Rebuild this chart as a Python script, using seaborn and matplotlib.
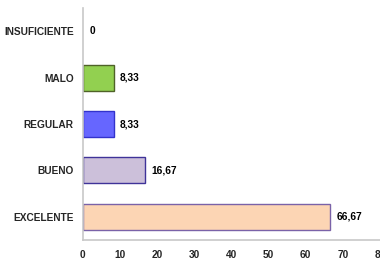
import matplotlib.pyplot as plt
import seaborn as sns
import pandas as pd

categorias = ['INSUFICIENTE', 'MALO', 'REGULAR', 'BUENO', 'EXCELENTE']
porcentajes = [0, 8.33, 8.33, 16.67, 66.67]
etiquetas = ['0', '8,33', '8,33', '16,67', '66,67']
colores = ['#ffffff', '#92d050', '#6666ff', '#ccc0da', '#fcd5b4']
bordes = ['#ffffff', '#4f6228', '#3333cc', '#3f3399', '#7a62a8']

df = pd.DataFrame({'cat': categorias, 'val': porcentajes})

sns.set_style('white')
plt.rcParams['font.family'] = ['Liberation Sans', 'DejaVu Sans']

fig = plt.figure(figsize=(3.8, 2.79), dpi=100)
ax = fig.add_axes([0.218, 0.140, 0.782, 0.831])

sns.barplot(data=df, y='cat', x='val', hue='cat', palette=colores,
            order=categorias, legend=False, width=0.56, ax=ax,
            linewidth=1.0, saturation=1)
for patch, ec in zip(ax.patches, bordes):
    patch.set_edgecolor(ec)

# etiquetas de valor al final de cada barra
for i, (v, t) in enumerate(zip(porcentajes, etiquetas)):
    ax.text(v + 1.7, i, t, va='center', ha='left', fontsize=7.3,
            fontweight='bold', color='black')

ax.set_xlim(0, 80)
ax.set_ylim(4.5, -0.5)
ax.set_xticks(range(0, 90, 10))
ax.set_xlabel('')
ax.set_ylabel('')
ax.tick_params(axis='both', length=0, labelsize=7.3)
ax.tick_params(axis='y', pad=6.5)
ax.tick_params(axis='x', pad=7.5)
for lab in ax.get_xticklabels() + ax.get_yticklabels():
    lab.set_fontweight('bold')
sns.despine(ax=ax, top=True, right=True)
for s in ['left', 'bottom']:
    ax.spines[s].set_color('#c8c8c8')
    ax.spines[s].set_linewidth(1.2)

fig.savefig('out.png', dpi=100)
